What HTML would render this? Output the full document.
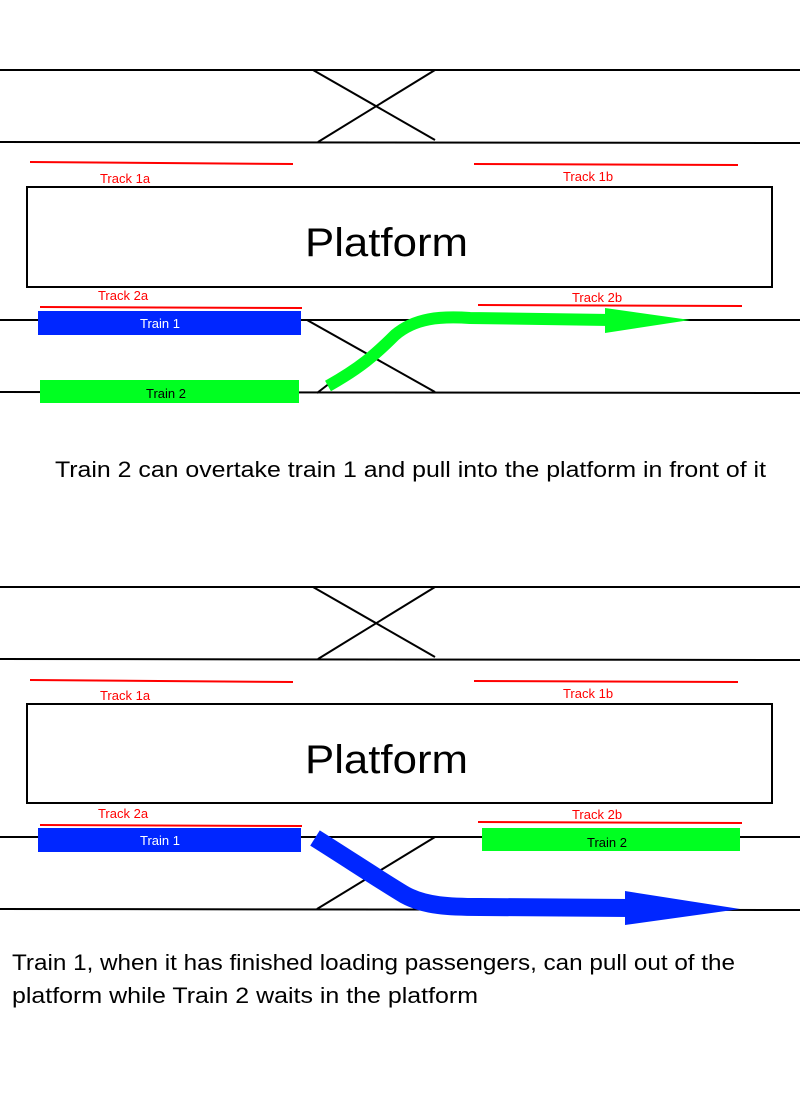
<!DOCTYPE html>
<html><head><meta charset="utf-8"><style>body{margin:0;background:#fff}svg{display:block}text{font-family:"Liberation Sans",sans-serif}</style></head><body>
<svg width="800" height="1114" viewBox="0 0 800 1114" xmlns="http://www.w3.org/2000/svg">
<g stroke="#000" stroke-width="2" fill="none">
<line x1="0" y1="70" x2="800" y2="70"/><line x1="0" y1="142" x2="800" y2="143"/>
<line x1="313" y1="70" x2="435" y2="140"/><line x1="435" y1="70" x2="318" y2="142"/>
<line x1="0" y1="320" x2="800" y2="320"/><line x1="0" y1="392" x2="800" y2="393"/>
<line x1="307" y1="320" x2="435" y2="392"/><line x1="317" y1="393" x2="330" y2="383"/>
<rect x="27" y="187" width="745" height="100"/>
<line x1="0" y1="587" x2="800" y2="587"/><line x1="0" y1="659" x2="800" y2="660"/>
<line x1="313" y1="587" x2="435" y2="657"/><line x1="435" y1="587" x2="318" y2="659"/>
<line x1="0" y1="837" x2="800" y2="837"/><line x1="0" y1="909" x2="800" y2="910"/>
<line x1="317" y1="909" x2="435" y2="837"/>
<rect x="27" y="704" width="745" height="99"/>
</g>
<g stroke="#f00" stroke-width="2">
<line x1="30" y1="162" x2="293" y2="164"/><line x1="474" y1="164" x2="738" y2="165"/>
<line x1="40" y1="307" x2="302" y2="308"/><line x1="478" y1="305" x2="742" y2="306"/>
<line x1="30" y1="680" x2="293" y2="682"/><line x1="474" y1="681" x2="738" y2="682"/>
<line x1="40" y1="825" x2="302" y2="826"/><line x1="478" y1="822" x2="742" y2="823"/>
</g>
<g fill="#f00" font-size="13" text-anchor="middle">
<text x="125" y="183">Track 1a</text><text x="588" y="181">Track 1b</text>
<text x="123" y="300">Track 2a</text><text x="597" y="302">Track 2b</text>
<text x="125" y="700">Track 1a</text><text x="588" y="698">Track 1b</text>
<text x="123" y="818">Track 2a</text><text x="597" y="819">Track 2b</text>
</g>
<text x="305" y="256" font-size="40" textLength="163" lengthAdjust="spacingAndGlyphs">Platform</text>
<text x="305" y="773" font-size="40" textLength="163" lengthAdjust="spacingAndGlyphs">Platform</text>
<rect x="38" y="311" width="263" height="24" fill="#0026ff"/>
<text x="160" y="328" font-size="13" fill="#fff" text-anchor="middle">Train 1</text>
<rect x="40" y="380" width="259" height="23" fill="#00ff21"/>
<text x="166" y="398" font-size="13" text-anchor="middle">Train 2</text>
<path d="M328 386 C360 368 375 355 395 335 C415 318 440 316 470 318 L610 320" stroke="#00ff21" stroke-width="12" fill="none"/>
<polygon points="605,308 605,333 690,320" fill="#00ff21"/>
<text x="55" y="477" font-size="22" textLength="711" lengthAdjust="spacingAndGlyphs">Train 2 can overtake train 1 and pull into the platform in front of it</text>
<rect x="38" y="828" width="263" height="24" fill="#0026ff"/>
<text x="160" y="845" font-size="13" fill="#fff" text-anchor="middle">Train 1</text>
<rect x="482" y="828" width="258" height="23" fill="#00ff21"/>
<text x="607" y="847" font-size="13" text-anchor="middle">Train 2</text>
<path d="M315 838 C350 860 380 880 405 895 C425 906 450 907 480 907 L630 908" stroke="#0026ff" stroke-width="18" fill="none"/>
<polygon points="625,891 625,925 740,909" fill="#0026ff"/>
<text x="12" y="970" font-size="22" textLength="723" lengthAdjust="spacingAndGlyphs">Train 1, when it has finished loading passengers, can pull out of the</text>
<text x="12" y="1003" font-size="22" textLength="466" lengthAdjust="spacingAndGlyphs">platform while Train 2 waits in the platform</text>
</svg>
</body></html>
